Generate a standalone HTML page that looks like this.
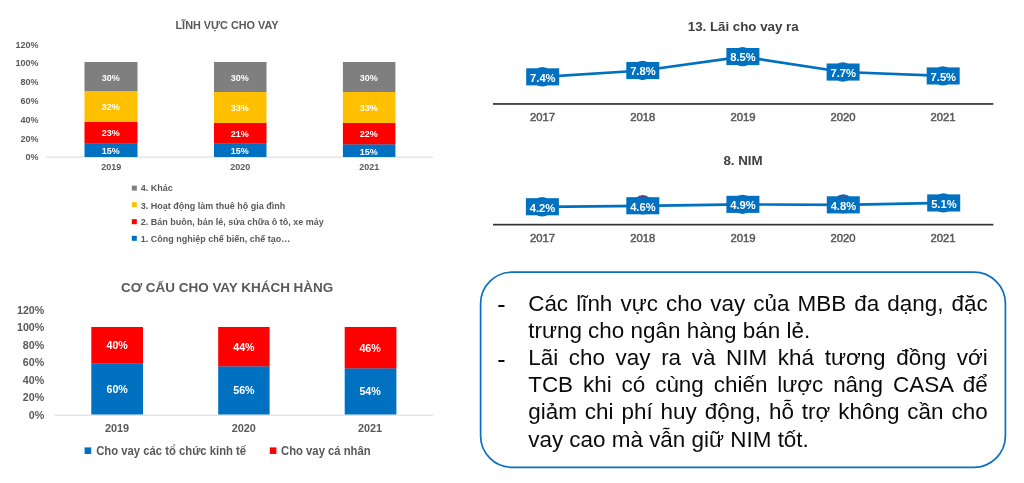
<!DOCTYPE html>
<html lang="vi">
<head>
<meta charset="utf-8">
<title>MBB</title>
<style>
html,body{margin:0;padding:0;background:#fff;}
body{width:1024px;height:483px;position:relative;overflow:hidden;font-family:"Liberation Sans",sans-serif;}
svg{position:absolute;left:0;top:0;}
svg text{font-family:"Liberation Sans",sans-serif;}
.b{font-weight:bold;}
.g{fill:#595959;}
.w{fill:#fff;}
.m{text-anchor:middle;}
.e{text-anchor:end;}
#note{position:absolute;left:479.7px;top:271.4px;width:524.5px;height:194.3px;border:1.6px solid #0a6fc2;border-radius:31px;box-sizing:content-box;}
.ln{position:absolute;left:528.2px;width:459.5px;height:27px;line-height:27px;font-size:22.45px;color:#0a0a0a;text-align:justify;text-align-last:justify;white-space:nowrap;}
.ln.l{text-align:left;text-align-last:left;}
.ds{position:absolute;left:497.2px;font-size:25px;line-height:27px;height:27px;color:#0a0a0a;}
</style>
</head>
<body>
<svg width="1024" height="483" viewBox="0 0 1024 483">
<!-- chart 1 -->
<g id="c1">
<text class="b g m" x="227" y="29.3" font-size="10.85">LĨNH VỰC CHO VAY</text>
<g class="b g e" font-size="9">
<text x="38.5" y="43.76" transform="scale(1,1.09)">120%</text>
<text x="38.5" y="60.28" transform="scale(1,1.09)">100%</text>
<text x="38.5" y="77.71" transform="scale(1,1.09)">80%</text>
<text x="38.5" y="95.14" transform="scale(1,1.09)">60%</text>
<text x="38.5" y="112.57" transform="scale(1,1.09)">40%</text>
<text x="38.5" y="130.00" transform="scale(1,1.09)">20%</text>
<text x="38.5" y="147.06" transform="scale(1,1.09)">0%</text>
</g>
<rect x="46" y="156.6" width="387" height="1" fill="#d9d9d9"/>
<!-- bar 1 -->
<rect x="84.5" y="62" width="53" height="29.2" fill="#7f7f7f"/>
<rect x="84.5" y="91" width="53" height="31.2" fill="#ffc000"/>
<rect x="84.5" y="122" width="53" height="21.4" fill="#ff0000"/>
<rect x="84.5" y="143.2" width="53" height="13.8" fill="#0070c0"/>
<!-- bar 2 -->
<rect x="214" y="62" width="52.5" height="30.2" fill="#7f7f7f"/>
<rect x="214" y="92" width="52.5" height="31.2" fill="#ffc000"/>
<rect x="214" y="123" width="52.5" height="20.4" fill="#ff0000"/>
<rect x="214" y="143.2" width="52.5" height="13.8" fill="#0070c0"/>
<!-- bar 3 -->
<rect x="342.9" y="62" width="52.5" height="30.2" fill="#7f7f7f"/>
<rect x="342.9" y="92" width="52.5" height="31.2" fill="#ffc000"/>
<rect x="342.9" y="123" width="52.5" height="21.7" fill="#ff0000"/>
<rect x="342.9" y="144.5" width="52.5" height="12.5" fill="#0070c0"/>
<g class="b w m" font-size="9">
<text x="110.7" y="74.22" transform="scale(1,1.09)">30%</text>
<text x="110.7" y="101.01" transform="scale(1,1.09)">32%</text>
<text x="110.7" y="124.68" transform="scale(1,1.09)">23%</text>
<text x="110.7" y="141.38" transform="scale(1,1.09)">15%</text>
<text x="239.7" y="74.22" transform="scale(1,1.09)">30%</text>
<text x="239.7" y="101.74" transform="scale(1,1.09)">33%</text>
<text x="239.7" y="125.41" transform="scale(1,1.09)">21%</text>
<text x="239.7" y="141.38" transform="scale(1,1.09)">15%</text>
<text x="368.7" y="74.22" transform="scale(1,1.09)">30%</text>
<text x="368.7" y="101.74" transform="scale(1,1.09)">33%</text>
<text x="368.7" y="125.41" transform="scale(1,1.09)">22%</text>
<text x="368.7" y="141.93" transform="scale(1,1.09)">15%</text>
</g>
<g class="b g m" font-size="9">
<text x="111.3" y="156.42" transform="scale(1,1.09)">2019</text>
<text x="240.3" y="156.42" transform="scale(1,1.09)">2020</text>
<text x="369.3" y="156.42" transform="scale(1,1.09)">2021</text>
</g>
<rect x="131.8" y="185.6" width="5" height="5" fill="#7f7f7f"/>
<rect x="131.8" y="202.2" width="5" height="5" fill="#ffc000"/>
<rect x="131.8" y="219.2" width="5" height="5" fill="#ff0000"/>
<rect x="131.8" y="235.8" width="5" height="5" fill="#0070c0"/>
<g class="b g" font-size="9">
<text x="140.8" y="174.95" transform="scale(1,1.09)">4. Khác</text>
<text x="140.8" y="191.65" transform="scale(1,1.09)">3. Hoạt động làm thuê hộ gia đình</text>
<text x="140.8" y="206.88" transform="scale(1,1.09)">2. Bán buôn, bán lẻ, sửa chữa ô tô, xe máy</text>
<text x="140.8" y="222.11" transform="scale(1,1.09)">1. Công nghiệp chế biến, chế tạo…</text>
</g>
</g>
<!-- chart 2 -->
<g id="c2">
<text class="b g m" x="227.1" y="292.1" font-size="13.46">CƠ CẤU CHO VAY KHÁCH HÀNG</text>
<g class="b g e" font-size="10.7">
<text x="44.3" y="293.05" transform="scale(1,1.07)">120%</text>
<text x="44.3" y="309.0" transform="scale(1,1.07)">100%</text>
<text x="44.3" y="326.50" transform="scale(1,1.07)">80%</text>
<text x="44.3" y="342.4" transform="scale(1,1.07)">60%</text>
<text x="44.3" y="358.74" transform="scale(1,1.07)">40%</text>
<text x="44.3" y="375.09" transform="scale(1,1.07)">20%</text>
<text x="44.3" y="391.45" transform="scale(1,1.07)">0%</text>
</g>
<rect x="54.5" y="414.7" width="378.5" height="1" fill="#d9d9d9"/>
<rect x="91.3" y="327" width="51.7" height="36.7" fill="#ff0000"/>
<rect x="91.3" y="363.5" width="51.7" height="51" fill="#0070c0"/>
<rect x="218.2" y="327" width="51.4" height="39.7" fill="#ff0000"/>
<rect x="218.2" y="366.5" width="51.4" height="48" fill="#0070c0"/>
<rect x="344.7" y="327" width="51.7" height="41.7" fill="#ff0000"/>
<rect x="344.7" y="368.5" width="51.7" height="46" fill="#0070c0"/>
<g class="b w m" font-size="10.7">
<text x="117.2" y="326.21" transform="scale(1,1.07)">40%</text>
<text x="117.2" y="367.15" transform="scale(1,1.07)">60%</text>
<text x="243.9" y="328.08" transform="scale(1,1.07)">44%</text>
<text x="243.9" y="368.27" transform="scale(1,1.07)">56%</text>
<text x="370.1" y="328.64" transform="scale(1,1.07)">46%</text>
<text x="370.1" y="369.39" transform="scale(1,1.07)">54%</text>
</g>
<g class="b g m" font-size="10.9">
<text x="117" y="403.97" transform="scale(1,1.07)">2019</text>
<text x="243.8" y="403.97" transform="scale(1,1.07)">2020</text>
<text x="370" y="403.97" transform="scale(1,1.07)">2021</text>
</g>
<rect x="84.6" y="447.4" width="6.6" height="6.6" fill="#0070c0"/>
<text class="b g" x="96.2" y="425.28" transform="scale(1,1.07)" font-size="11.3">Cho vay các tổ chức kinh tế</text>
<rect x="269.8" y="447.4" width="6.6" height="6.6" fill="#ff0000"/>
<text class="b g" x="281" y="425.28" transform="scale(1,1.07)" font-size="11.3">Cho vay cá nhân</text>
</g>
<!-- line chart 1 -->
<g id="c3">
<text class="b m" x="743.2" y="30.6" font-size="13.3" fill="#404040">13. Lãi cho vay ra</text>
<rect x="493" y="103.1" width="500.4" height="1.7" fill="#333"/>
<polyline points="542.7,76.8 642.8,70.5 742.9,56.6 843.1,72.0 943.2,75.9" fill="none" stroke="#0070c0" stroke-width="2.7" stroke-linejoin="round"/>
<g fill="#0070c0">
<circle cx="542.4" cy="76.8" r="9.7"/>
<rect x="526.2" y="68.3" width="33" height="17.1"/>
<circle cx="642.5" cy="70.5" r="9.7"/>
<rect x="626.3" y="62.0" width="33" height="17.1"/>
<circle cx="742.6" cy="56.6" r="9.7"/>
<rect x="726.4" y="48.0" width="33" height="17.1"/>
<circle cx="842.8" cy="72.0" r="9.7"/>
<rect x="826.6" y="63.5" width="33" height="17.1"/>
<circle cx="942.9" cy="75.9" r="9.7"/>
<rect x="926.7" y="67.4" width="33" height="17.1"/>
</g>
<g class="b w m" font-size="11.2">
<text x="542.8" y="81.5">7.4%</text>
<text x="642.9" y="75.2">7.8%</text>
<text x="743.0" y="61.3">8.5%</text>
<text x="843.2" y="76.8">7.7%</text>
<text x="943.3" y="80.6">7.5%</text>
</g>
<g class="g m" font-size="11.3" stroke="#595959" stroke-width="0.5">
<text x="542.5" y="121.0">2017</text><text x="642.7" y="121.0">2018</text><text x="743.0" y="121.0">2019</text><text x="843.0" y="121.0">2020</text><text x="943.0" y="121.0">2021</text>
</g>
</g>
<!-- line chart 2 -->
<g id="c4">
<text class="b m" x="743" y="164.7" font-size="13.3" fill="#404040">8. NIM</text>
<rect x="493" y="223.8" width="500.4" height="1.7" fill="#333"/>
<circle cx="642.8" cy="204.8" r="9.7" fill="#0070c0"/><circle cx="642.8" cy="204.8" r="8.5" fill="#c0143c"/>
<circle cx="843.3" cy="203.9" r="9.7" fill="#0070c0"/><circle cx="843.3" cy="203.9" r="8.5" fill="#c0143c"/>
<polyline points="542.4,206.8 642.8,205.8 742.9,204.4 843.3,204.9 943.8,202.9" fill="none" stroke="#0070c0" stroke-width="2.7" stroke-linejoin="round"/>
<g fill="#0070c0">
<circle cx="542.1" cy="206.8" r="9.7"/>
<rect x="525.9" y="198.2" width="33" height="17.1"/>
<rect x="626.3" y="197.2" width="33" height="17.1"/>
<circle cx="742.6" cy="204.4" r="9.7"/>
<rect x="726.4" y="195.8" width="33" height="17.1"/>
<rect x="826.8" y="196.3" width="33" height="17.1"/>
<circle cx="943.5" cy="202.9" r="9.7"/>
<rect x="927.2" y="194.4" width="33" height="17.1"/>
</g>
<g class="b w m" font-size="11.2">
<text x="542.5" y="211.5">4.2%</text>
<text x="642.9" y="210.5">4.6%</text>
<text x="743.0" y="209.1">4.9%</text>
<text x="843.4" y="209.6">4.8%</text>
<text x="943.9" y="207.6">5.1%</text>
</g>
<g class="g m" font-size="11.3" stroke="#595959" stroke-width="0.5">
<text x="542.5" y="242.0">2017</text><text x="642.7" y="242.0">2018</text><text x="743.0" y="242.0">2019</text><text x="843.0" y="242.0">2020</text><text x="943.0" y="242.0">2021</text>
</g>
</g>
<rect x="480.6" y="272.2" width="524.8" height="195.1" rx="31.5" ry="31.5" fill="none" stroke="#0a6fc2" stroke-width="1.7"/>
</svg>
<div class="ds" style="top:291.30px">-</div>
<div class="ln" style="top:289.50px">Các lĩnh vực cho vay của MBB đa dạng, đặc</div>
<div class="ln l" style="top:316.70px">trưng cho ngân hàng bán lẻ.</div>
<div class="ds" style="top:345.70px">-</div>
<div class="ln" style="top:343.90px">Lãi cho vay ra và NIM khá tương đồng với</div>
<div class="ln" style="top:371.10px">TCB khi có cùng chiến lược nâng CASA để</div>
<div class="ln" style="top:398.30px">giảm chi phí huy động, hỗ trợ không cần cho</div>
<div class="ln l" style="top:425.50px">vay cao mà vẫn giữ NIM tốt.</div>
</body>
</html>
